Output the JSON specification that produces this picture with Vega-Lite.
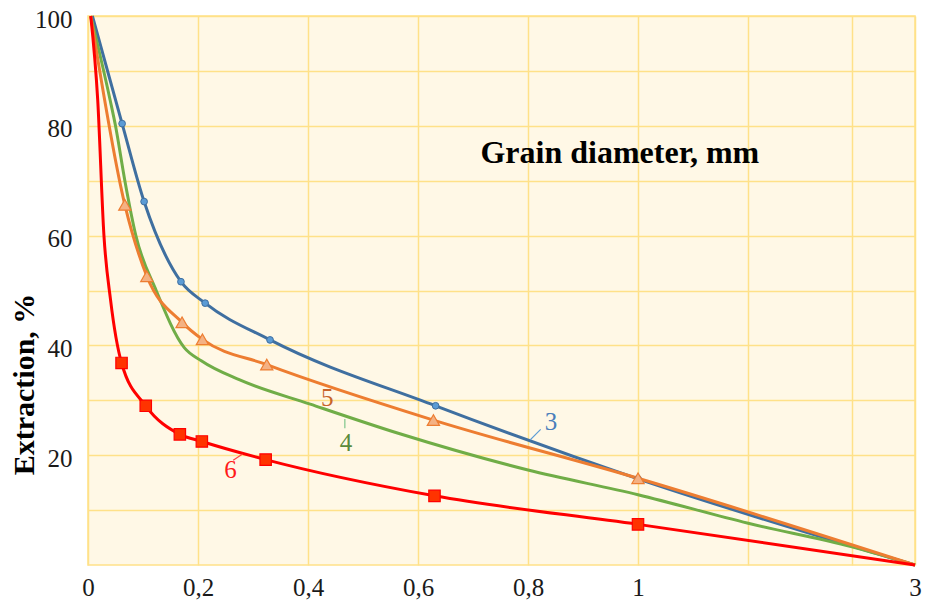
{
  "$schema": "https://vega.github.io/schema/vega-lite/v6.json",
  "width": 827,
  "height": 549,
  "autosize": "none",
  "padding": {"left": 88, "top": 16, "right": 15, "bottom": 38},
  "background": "#FFFFFF",
  "config": {
    "view": {"fill": "#FFF8E6", "stroke": "#FFE189", "strokeWidth": 1.5},
    "axis": {
      "grid": true, "gridColor": "#FFE189", "gridWidth": 1.5,
      "domain": false, "ticks": false,
      "labelFont": "Liberation Serif", "labelFontSize": 25, "labelColor": "#1a1a1a",
      "titleFont": "Liberation Serif"
    }
  },
  "datasets": {
    "curves": [
      {"s": "3", "x": 0.008, "y": 100, "m": 0},
      {"s": "3", "x": 0.062, "y": 80.4, "m": 1},
      {"s": "3", "x": 0.102, "y": 66.2, "m": 1},
      {"s": "3", "x": 0.169, "y": 51.6, "m": 1},
      {"s": "3", "x": 0.213, "y": 47.7, "m": 1},
      {"s": "3", "x": 0.331, "y": 41.0, "m": 1},
      {"s": "3", "x": 0.632, "y": 29.0, "m": 1},
      {"s": "3", "x": 1.0, "y": 15.7, "m": 1},
      {"s": "3", "x": 3, "y": 0, "m": 0},
      {"s": "4", "x": 0.005, "y": 100, "m": 0},
      {"s": "4", "x": 0.040, "y": 84.8, "m": 0},
      {"s": "4", "x": 0.050, "y": 80, "m": 0},
      {"s": "4", "x": 0.067, "y": 70, "m": 0},
      {"s": "4", "x": 0.087, "y": 60, "m": 0},
      {"s": "4", "x": 0.124, "y": 50, "m": 0},
      {"s": "4", "x": 0.175, "y": 39.6, "m": 0},
      {"s": "4", "x": 0.206, "y": 37.2, "m": 0},
      {"s": "4", "x": 0.276, "y": 33.7, "m": 0},
      {"s": "4", "x": 0.404, "y": 29.3, "m": 0},
      {"s": "4", "x": 0.567, "y": 23.9, "m": 0},
      {"s": "4", "x": 0.8, "y": 17.3, "m": 0},
      {"s": "4", "x": 1.0, "y": 12.8, "m": 0},
      {"s": "4", "x": 1.796, "y": 7.6, "m": 0},
      {"s": "4", "x": 2.545, "y": 3.3, "m": 0},
      {"s": "4", "x": 3, "y": 0, "m": 0},
      {"s": "5", "x": 0.005, "y": 100, "m": 0},
      {"s": "5", "x": 0.067, "y": 65.6, "m": 1},
      {"s": "5", "x": 0.107, "y": 52.6, "m": 1},
      {"s": "5", "x": 0.171, "y": 44.2, "m": 1},
      {"s": "5", "x": 0.208, "y": 41.1, "m": 1},
      {"s": "5", "x": 0.325, "y": 36.5, "m": 1},
      {"s": "5", "x": 0.628, "y": 26.4, "m": 1},
      {"s": "5", "x": 1.0, "y": 15.8, "m": 1},
      {"s": "5", "x": 3, "y": 0, "m": 0},
      {"s": "6", "x": 0.005, "y": 100, "m": 0},
      {"s": "6", "x": 0.0176, "y": 84.8, "m": 0},
      {"s": "6", "x": 0.029, "y": 60, "m": 0},
      {"s": "6", "x": 0.041, "y": 48.3, "m": 0},
      {"s": "6", "x": 0.061, "y": 36.8, "m": 1},
      {"s": "6", "x": 0.105, "y": 29.0, "m": 1},
      {"s": "6", "x": 0.167, "y": 23.8, "m": 1},
      {"s": "6", "x": 0.207, "y": 22.5, "m": 1},
      {"s": "6", "x": 0.323, "y": 19.2, "m": 1},
      {"s": "6", "x": 0.63, "y": 12.6, "m": 1},
      {"s": "6", "x": 1.0, "y": 7.4, "m": 1},
      {"s": "6", "x": 3, "y": 0, "m": 0}
    ],
    "notes": [
      {"s": "3", "x": 0.842, "y": 24.6, "t": "3"},
      {"s": "4", "x": 0.469, "y": 20.8, "t": "4"},
      {"s": "5", "x": 0.435, "y": 29.0, "t": "5"},
      {"s": "6", "x": 0.259, "y": 15.8, "t": "6"}
    ],
    "leaders": [
      {"s": "3", "x": 0.804, "y": 22.8, "x2": 0.823, "y2": 24.7},
      {"s": "4", "x": 0.467, "y": 26.6, "x2": 0.467, "y2": 24.9},
      {"s": "6", "x": 0.264, "y": 19.1, "x2": 0.281, "y2": 20.2}
    ],
    "heading": [
      {"x": 0.967, "y": 73.2, "t": "Grain diameter, mm"}
    ]
  },
  "encoding": {
    "x": {
      "field": "x", "type": "quantitative",
      "scale": {"domain": [0, 1, 3], "range": [0, 550, 827], "nice": false, "zero": false},
      "axis": {
        "title": null,
        "values": [0, 0.2, 0.4, 0.6, 0.8, 1, 1.796, 2.545, 3],
        "labelExpr": "datum.value > 1 && datum.value < 3 ? '' : replace(toString(datum.value), '.', ',')",
        "labelFont": "Liberation Serif", "labelFontSize": 25,
        "labelFlush": false, "labelOverlap": false, "labelPadding": 10
      }
    },
    "y": {
      "field": "y", "type": "quantitative",
      "scale": {"domain": [0, 100], "nice": false},
      "axis": {
        "values": [10, 20, 30, 40, 50, 60, 70, 80, 90, 100],
        "labelExpr": "datum.value % 20 == 0 ? datum.label : ''",
        "labelFont": "Liberation Serif", "labelFontSize": 25,
        "labelPadding": 16, "labelOffset": 3, "labelOverlap": false,
        "title": "Extraction, %",
        "titleFontSize": 30, "titleFontWeight": "bold", "titleColor": "#000000",
        "titleAngle": 270, "titleX": -55, "titleY": 368,
        "titleAlign": "center", "titleBaseline": "alphabetic"
      }
    }
  },
  "layer": [
    {"data": {"name": "curves"}, "transform": [{"filter": "datum.s == '3'"}],
     "mark": {"type": "line", "color": "#3F6FA0", "strokeWidth": 3, "interpolate": "monotone"}},
    {"data": {"name": "curves"}, "transform": [{"filter": "datum.s == '4'"}],
     "mark": {"type": "line", "color": "#70AD47", "strokeWidth": 3, "interpolate": "monotone"}},
    {"data": {"name": "curves"}, "transform": [{"filter": "datum.s == '5'"}],
     "mark": {"type": "line", "color": "#ED7D31", "strokeWidth": 3, "interpolate": "monotone"}},
    {"data": {"name": "curves"}, "transform": [{"filter": "datum.s == '6'"}],
     "mark": {"type": "line", "color": "#FF0000", "strokeWidth": 3, "interpolate": "monotone"}},
    {"data": {"name": "curves"}, "transform": [{"filter": "datum.s == '3' && datum.m == 1"}],
     "mark": {"type": "point", "shape": "circle", "filled": true, "fill": "#5B9BD5", "stroke": "#3F6FA0", "strokeWidth": 1, "size": 45, "opacity": 1}},
    {"data": {"name": "curves"}, "transform": [{"filter": "datum.s == '5' && datum.m == 1"}],
     "mark": {"type": "point", "shape": "triangle-up", "filled": true, "fill": "#F4B183", "stroke": "#ED7D31", "strokeWidth": 1.2, "size": 150, "opacity": 1}},
    {"data": {"name": "curves"}, "transform": [{"filter": "datum.s == '6' && datum.m == 1"}],
     "mark": {"type": "point", "shape": "square", "filled": true, "fill": "#FF3300", "stroke": "#FF0000", "strokeWidth": 1.2, "size": 130, "opacity": 1}},
    {"data": {"name": "leaders"},
     "mark": {"type": "rule", "strokeWidth": 1.2},
     "encoding": {
       "x2": {"field": "x2"}, "y2": {"field": "y2"},
       "stroke": {"field": "s", "type": "nominal", "legend": null,
                  "scale": {"domain": ["3", "4", "6"], "range": ["#5B9BD5", "#7CC68A", "#FF4040"]}}
     }},
    {"data": {"name": "notes"},
     "mark": {"type": "text", "font": "Liberation Serif", "fontSize": 25, "align": "center", "baseline": "alphabetic"},
     "encoding": {
       "text": {"field": "t"},
       "fill": {"field": "s", "type": "nominal", "legend": null,
                "scale": {"domain": ["3", "4", "5", "6"], "range": ["#4A7EBB", "#5A8A3C", "#C8642A", "#FF1A1A"]}}
     }},
    {"data": {"name": "heading"},
     "mark": {"type": "text", "font": "Liberation Serif", "fontSize": 32, "fontWeight": "bold", "align": "center", "baseline": "alphabetic", "color": "#000000"},
     "encoding": {"text": {"field": "t"}}}
  ]
}
